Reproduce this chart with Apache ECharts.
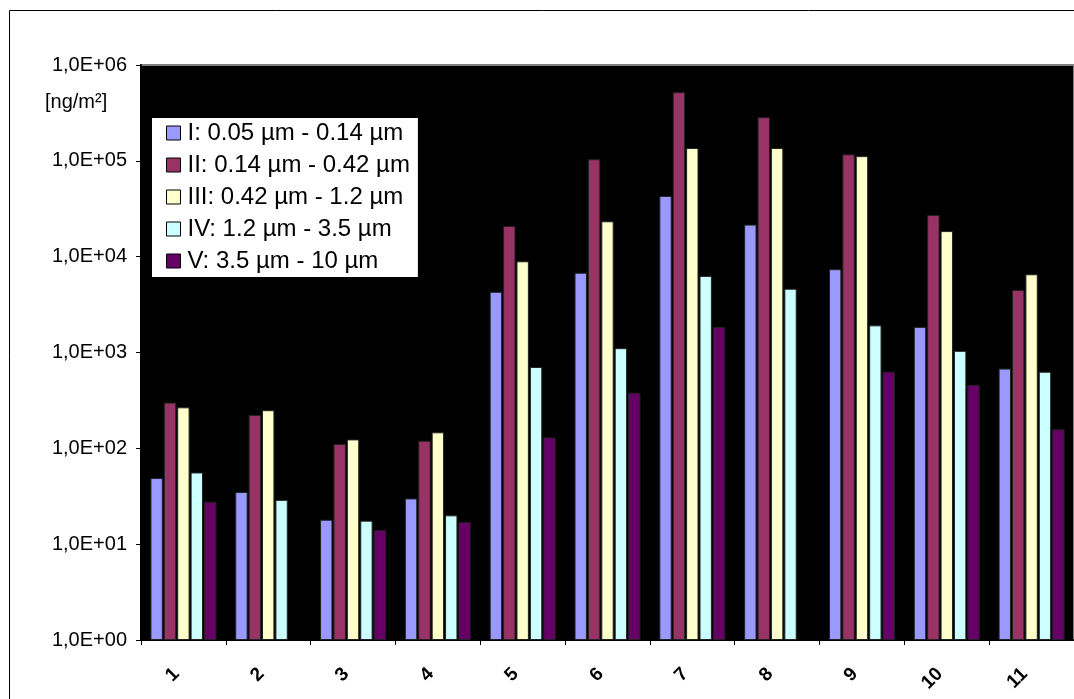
<!DOCTYPE html>
<html>
<head>
<meta charset="utf-8">
<script src="https://cdn.jsdelivr.net/npm/echarts@6/dist/echarts.min.js"></script>
<style>
html,body{margin:0;padding:0;background:#fff;}
#c{width:1074px;height:699px;}
</style>
</head>
<body>
<div id="c"></div>
<script>
const categories = ['1','2','3','4','5','6','7','8','9','10','11'];
const seriesNames = ['I: 0.05 µm - 0.14 µm','II: 0.14 µm - 0.42 µm','III: 0.42 µm - 1.2 µm','IV: 1.2 µm - 3.5 µm','V: 3.5 µm - 10 µm'];
const sI   = [49, 35, 18, 30, 4300, 6800, 43000, 21600, 7400, 1850, 680];
const sII  = [300, 223, 111, 120, 20900, 104000, 520000, 285000, 117000, 27200, 4500];
const sIII = [268, 250, 124, 147, 8950, 23400, 136000, 136000, 112000, 18500, 6550];
const sIV  = [56, 29, 17.6, 20, 706, 1110, 6300, 4630, 1920, 1040, 630];
const sV   = [27.7, null, 14, 17, 130, 380, 1850, null, 630, 460, 158];
const colors = ['#9999FF','#993366','#FFFFCC','#CCFFFF','#660066'];
const yUnit = '[ng/m²]';

const font = 'Liberation Sans, Arial, sans-serif';
const chart = echarts.init(document.getElementById('c'), null, {renderer:'canvas'});
const data = [sI, sII, sIII, sIV, sV];
chart.setOption({
  animation:false,
  backgroundColor:'#fff',
  graphic:[
    {type:'rect', shape:{x:9.5,y:10.5,width:1200,height:800}, style:{fill:'none',stroke:'#000',lineWidth:1}, z:-10},
    {type:'text', left:45, top:92, style:{text:yUnit, font:'20px '+font, fill:'#000'}}
  ],
  grid:{left:141, top:65, bottom:59, right:-7.5, show:true, backgroundColor:'#000', borderColor:'#808080', borderWidth:2},
  legend:{
    orient:'vertical', left:152, top:118, width:266,
    backgroundColor:'#fff', padding:[3,8,4,14], itemGap:8,
    itemWidth:14, itemHeight:14,
    textStyle:{fontFamily:font, fontSize:24, color:'#000', padding:[0,0,0,2]},
    itemStyle:{borderColor:'#000', borderWidth:1},
    data: seriesNames.map(n=>({name:n, icon:'rect'}))
  },
  xAxis:{
    type:'category', data:categories,
    axisLine:{lineStyle:{color:'#000', width:2}},
    axisTick:{show:true, length:5, lineStyle:{color:'#000', width:1}},
    axisLabel:{rotate:45, margin:24, padding:[0,10,0,0], fontFamily:font, fontSize:19, fontWeight:'bold', color:'#000', interval:0}
  },
  yAxis:{
    type:'log', logBase:10, min:1, max:1000000, splitNumber:6,
    axisLine:{show:true, lineStyle:{color:'#000', width:2}},
    axisTick:{show:true, length:5, lineStyle:{color:'#000', width:1}},
    splitLine:{show:false},
    axisLabel:{margin:14, fontFamily:font, fontSize:20, color:'#000',
      formatter:v=>'1,0E+'+String(Math.round(Math.log10(v))).padStart(2,'0')}
  },
  series: seriesNames.map((n,i)=>({
    name:n, type:'bar', data:data[i],
    barWidth:12.4, barGap:'8%',
    itemStyle:{color:colors[i], borderColor:'#222', borderWidth:1}
  }))
});
</script>
</body>
</html>
